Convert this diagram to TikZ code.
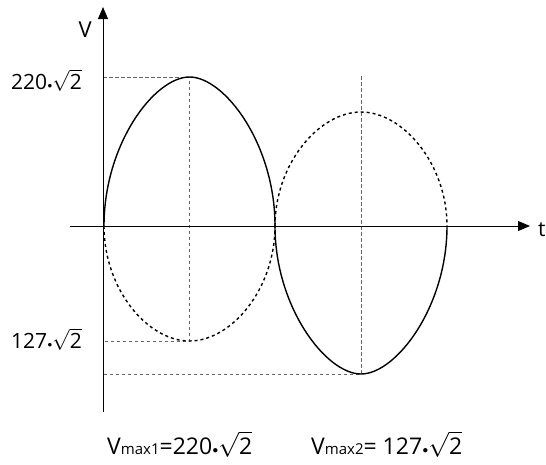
\documentclass[tikz,border=0pt]{standalone}
\usepackage{fontspec}
\usepackage{graphicx}
\setmainfont{Open Sans}
\usetikzlibrary{arrows.meta}
\newcommand\sqtwo{$\sqrt{\mbox{2}}$}
\newcommand\bdot{\kern0.3pt\raisebox{1pt}{\scalebox{0.45}{$\bullet$}}\kern0.3pt}
\begin{document}
\begin{tikzpicture}[x=1pt,y=-1pt,
  axis/.style={line width=0.9pt,-{Triangle[length=12pt,width=10pt]}},
  guide/.style={line width=0.8pt,gray!80!black,dash pattern=on 3.5pt off 2.5pt},
  solidcurve/.style={line width=1.4pt,black},
  dashcurve/.style={line width=1.4pt,black,dash pattern=on 3pt off 3pt},
  lbl/.style={inner sep=0pt,font=\fontsize{21pt}{24pt}\selectfont},
  blbl/.style={inner sep=0pt,font=\fontsize{23pt}{26pt}\selectfont}]
\useasboundingbox (0,0) rectangle (546,464);
% key points
\coordinate (o) at (104,226);
\coordinate (z2) at (275,226);
\coordinate (z3) at (447,226);
\coordinate (p1) at (189.5,77);
\coordinate (q1) at (189.5,341);
\coordinate (p2) at (361,112);
\coordinate (q2) at (361,374);
\coordinate (l1) at (103,77);
\coordinate (l2) at (103,341);
\coordinate (l3) at (103,374);
\coordinate (v2top) at (361,76);
\coordinate (xl) at (70,226);
\coordinate (xr) at (530,226);
\coordinate (yb) at (103,412);
\coordinate (yt) at (103,7);
% guides
\draw[guide] (l1) -- (p1) -- (q1) -- (l2);
\draw[guide] (v2top) -- (q2) -- (l3);
% axes
\draw[axis] (xl) -- (xr);
\draw[axis] (yb) -- (yt);
% curves
\draw[solidcurve] (o) .. controls (104,144) and (154.5,77) .. (p1)
  .. controls (224.5,77) and (275,144) .. (z2);
\draw[dashcurve] (o) .. controls (104,289) and (147.5,341) .. (q1)
  .. controls (231.5,341) and (275,289) .. (z2);
\draw[solidcurve] (z2) .. controls (275,307) and (326,374) .. (q2)
  .. controls (396,374) and (447,307) .. (z3);
\draw[dashcurve] (z2) .. controls (275,164) and (319,112) .. (p2)
  .. controls (403,112) and (447,164) .. (z3);
% labels
\node[lbl,anchor=base east,font=\fontsize{22pt}{24pt}\selectfont] (lv) at (92,37) {V};
\node[lbl,anchor=base west] (lt) at (538,236) {t};
\node[lbl,anchor=base west] (la) at (11,89) {220\bdot\sqtwo};
\node[lbl,anchor=base west] (lb) at (11,348) {127\bdot\sqtwo};
\node[blbl,anchor=base west] (lc) at (107,454) {V{\fontsize{15pt}{16pt}\selectfont max1}=220\bdot\sqtwo};
\node[blbl,anchor=base west] (ld) at (311,454) {V{\fontsize{15pt}{16pt}\selectfont max2}= 127\bdot\sqtwo};
\end{tikzpicture}
\end{document}
